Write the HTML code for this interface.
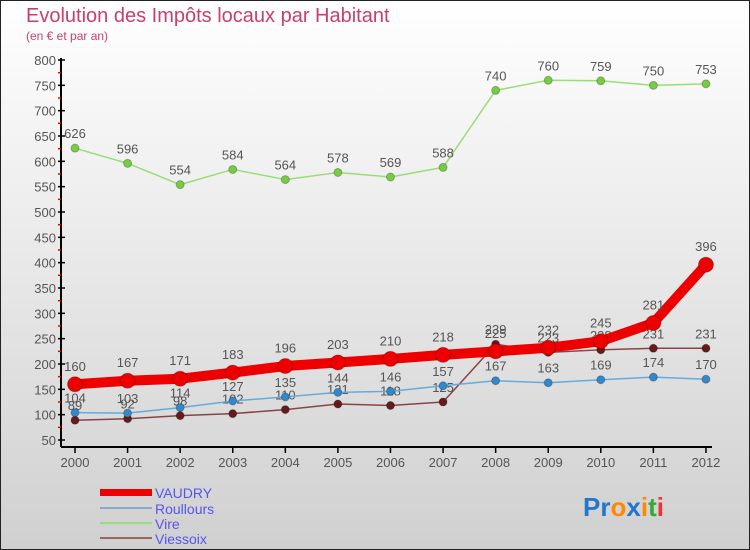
<!DOCTYPE html>
<html><head><meta charset="utf-8"><style>
body{margin:0}
#c{width:750px;height:550px;position:relative;overflow:hidden;box-sizing:border-box;border:1px solid #222;background:linear-gradient(#ffffff,#d0d0d0);font-family:"Liberation Sans",sans-serif}
</style></head><body>
<div id="c">
<svg id="s" width="750" height="550" style="position:absolute;left:-1px;top:-1px">
<text x="26" y="22" font-size="20" fill="#c8406a">Evolution des Impôts locaux par Habitant</text>
<text x="26" y="40" font-size="12" fill="#c8406a">(en € et par an)</text>
<g id="g"></g>
<g>
<rect x="100" y="489" width="52" height="7" fill="#ee0000"/>
<line x1="100" y1="508" x2="152" y2="508" stroke="#88aacc" stroke-width="2"/>
<line x1="100" y1="523" x2="152" y2="523" stroke="#99dd77" stroke-width="2"/>
<line x1="100" y1="538" x2="152" y2="538" stroke="#996666" stroke-width="2"/>
<text x="155" y="498" font-size="14" fill="#5555ee">VAUDRY</text>
<text x="155" y="514" font-size="14" fill="#5555ee">Roullours</text>
<text x="155" y="529" font-size="14" fill="#5555ee">Vire</text>
<text x="155" y="544" font-size="14" fill="#5555ee">Viessoix</text>
</g>
<text x="583" y="516" font-size="26" font-weight="bold"><tspan fill="#2277cc">Pr</tspan><tspan fill="#ff8800">o</tspan><tspan fill="#2277cc">x</tspan><tspan fill="#ff8800">i</tspan><tspan fill="#33aa33">t</tspan><tspan fill="#ee3333">i</tspan></text>
</svg>
</div>
<script>
const years=[2000,2001,2002,2003,2004,2005,2006,2007,2008,2009,2010,2011,2012];
const vaudry=[160,167,171,183,196,203,210,218,225,232,245,281,396];
const roullours=[104,103,114,127,135,144,146,157,167,163,169,174,170];
const vire=[626,596,554,584,564,578,569,588,740,760,759,750,753];
const viessoix=[89,92,98,102,110,121,118,125,239,223,228,231,231];
const yTicks=[50,100,150,200,250,300,350,400,450,500,550,600,650,700,750,800];
const NS="http://www.w3.org/2000/svg";
const g=document.getElementById('g');
const X=i=>75+i*52.58;
const Y=v=>440-(v-50)*380/750;
function mk(t,a,p){const e=document.createElementNS(NS,t);for(const k in a)e.setAttribute(k,a[k]);(p||g).appendChild(e);return e;}
let ax=mk('line',{x1:61,y1:58,x2:61,y2:447,stroke:'#000','stroke-width':2});


let xx=mk('line',{x1:61,y1:447,x2:712,y2:447,stroke:'#000','stroke-width':2});


yTicks.forEach(v=>{
 mk('line',{x1:58,y1:Y(v),x2:65,y2:Y(v),stroke:'#000','stroke-width':1.5});
 if(v<800) mk('line',{x1:58,y1:Y(v+25),x2:61,y2:Y(v+25),stroke:'#e00','stroke-width':1.5});
 const t=mk('text',{x:56,y:Y(v)+5,'font-size':13,fill:'#555','text-anchor':'end'});t.textContent=v;
 
 
});
years.forEach((yr,i)=>{
 mk('line',{x1:X(i),y1:447,x2:X(i),y2:453,stroke:'#000','stroke-width':1.5});
 const t=mk('text',{x:X(i),y:467,'font-size':13,fill:'#555','text-anchor':'middle'});t.textContent=yr;
 
 
});
function series(d,col,dot,w,r,name){
 const pl=mk('polyline',{points:d.map((v,i)=>X(i)+','+Y(v)).join(' '),fill:'none',stroke:col,'stroke-width':w,'stroke-linejoin':'round'});
 
 
 d.forEach((v,i)=>{
  const c=mk('circle',{cx:X(i),cy:Y(v),r:r,fill:dot,stroke:'rgba(0,0,0,0.25)','stroke-width':1});
  
  
  const t=mk('text',{x:X(i),y:Y(v)-(r+6),'font-size':13,fill:'#555','text-anchor':'middle'});t.textContent=v;
  
  
 });
}
series(vire,'#99dd77','#77cc44',1.5,4,'vire');
series(viessoix,'#884444','#661a1a',1.5,4,'viessoix');
series(roullours,'#66aadd','#3388cc',1.5,4,'roullours');
series(vaudry,'#ee0000','#ee0000',10,7.5,'vaudry');
</script>
</body></html>
